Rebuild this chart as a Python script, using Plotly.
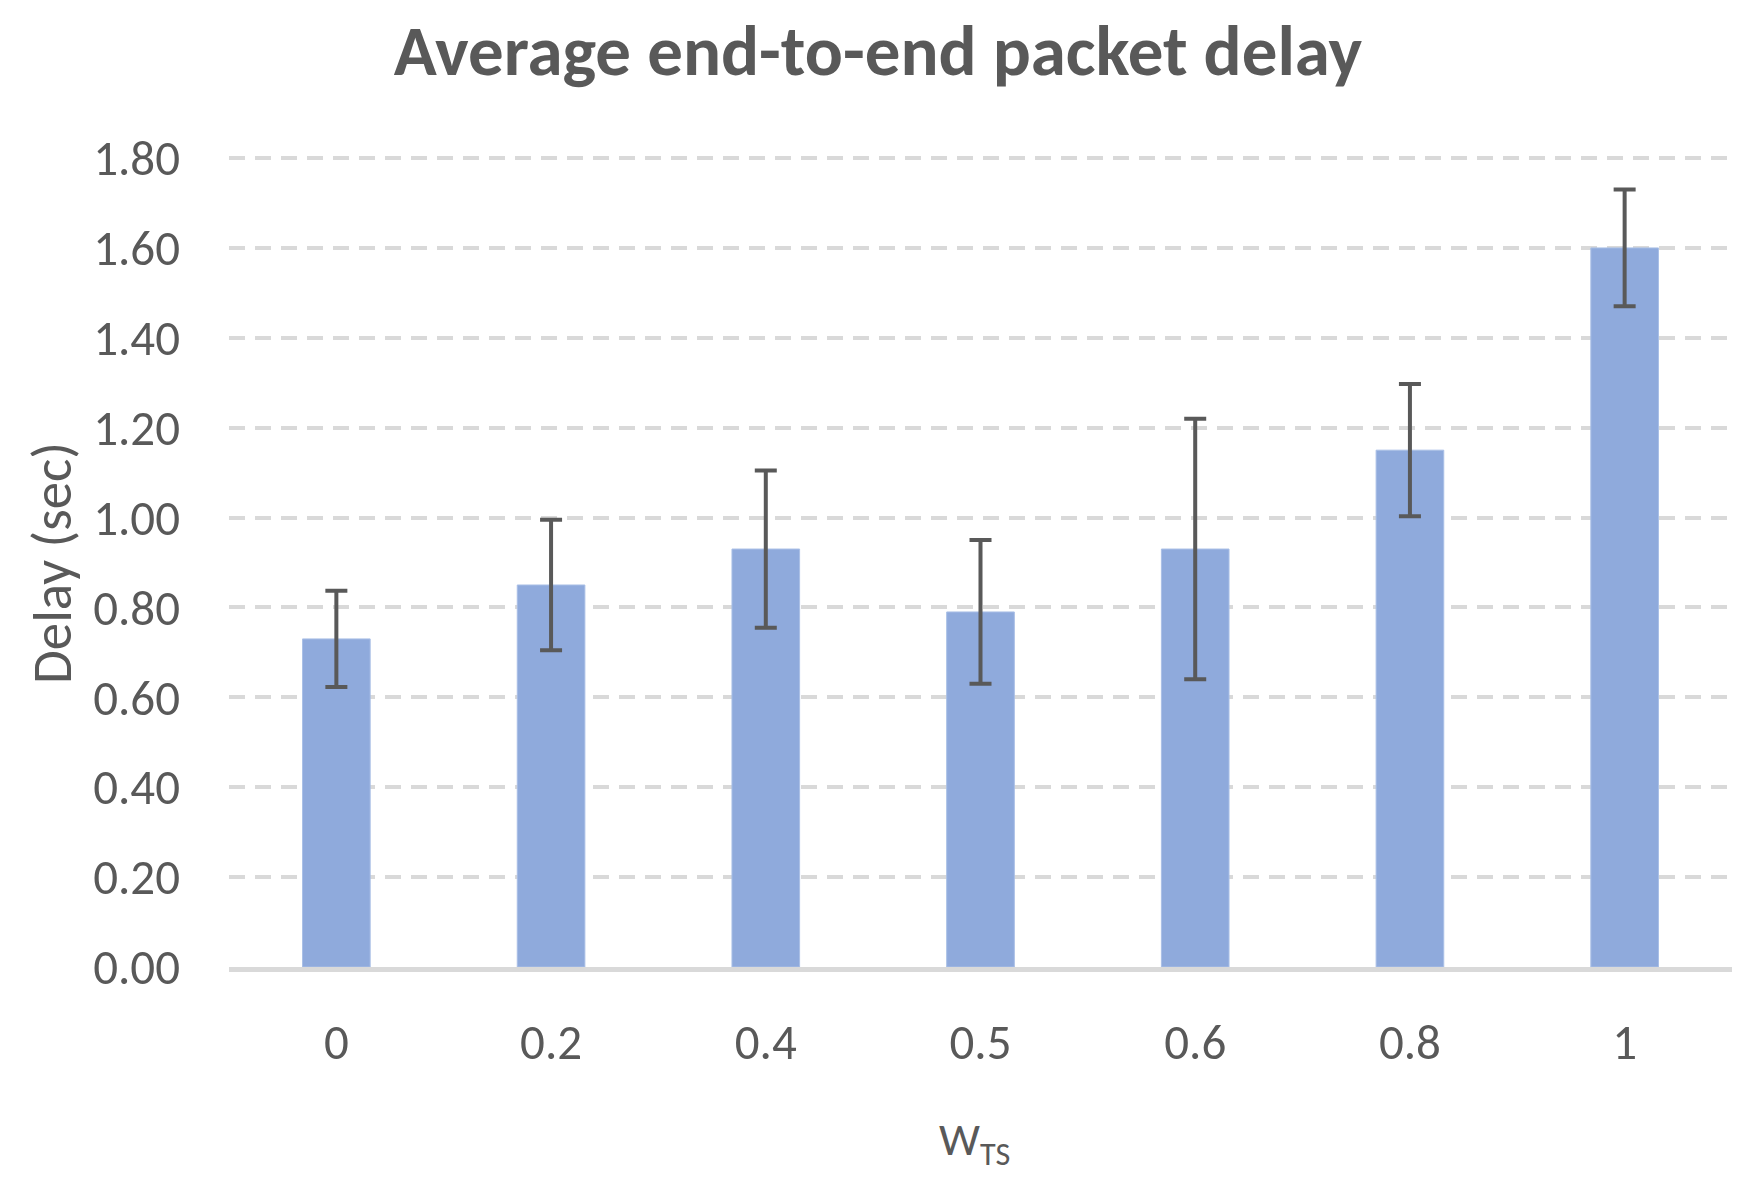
import plotly.graph_objects as go

categories = ["0", "0.2", "0.4", "0.5", "0.6", "0.8", "1"]
delay_mean = [0.73, 0.85, 0.93, 0.79, 0.93, 1.15, 1.60]
delay_err = [0.107, 0.145, 0.175, 0.16, 0.29, 0.147, 0.13]
y_ticks = [0.0, 0.2, 0.4, 0.6, 0.8, 1.0, 1.2, 1.4, 1.6, 1.8]
y_ticktext = [f"{v:.2f}" for v in y_ticks]

FONT = "Calibri, Carlito, Lato, sans-serif"
TXT = "#595959"

W, H = 1740, 1179
L, R, T, B = 221, 16, 146, 220
PW, PH = W - L - R, H - T - B

fig = go.Figure()
fig.add_trace(go.Bar(
    x=categories, y=delay_mean,
    width=0.315,
    marker=dict(color="#8FAADC", line=dict(color="#A9BFE6", width=1)),
    error_y=dict(type="data", array=delay_err, visible=True,
                 color="#595959", thickness=4, width=11),
))

fig.update_layout(
    width=W, height=H,
    margin=dict(l=L, r=R, t=T, b=B),
    paper_bgcolor="white", plot_bgcolor="white",
    showlegend=False,
    font=dict(family=FONT, color=TXT),
    title=dict(text="<b>Average end-to-end packet delay</b>",
               x=0.5, xanchor="center", xref="container",
               y=1 - 42 / H, yanchor="middle", yref="container",
               font=dict(family=FONT, size=71, color=TXT)),
)
fig.update_xaxes(
    type="category", showgrid=False, zeroline=False,
    showline=True, linecolor="#D9D9D9", linewidth=5,
    ticks="", tickfont=dict(size=49, color=TXT, family=FONT),
    ticklabelstandoff=28,
)
fig.update_yaxes(
    range=[0, 1.809], tickvals=y_ticks, ticktext=y_ticktext,
    showgrid=True, gridcolor="#D9D9D9", gridwidth=4, griddash="16px,10px",
    zeroline=False, showline=False, ticks="",
    tickfont=dict(size=49, color=TXT, family=FONT),
    ticklabelstandoff=48,
)
fig.add_annotation(text="Delay (sec)", xref="paper", yref="paper",
                   x=-(L - 44) / PW, y=(959 - 555) / PH,
                   xanchor="center", yanchor="middle", textangle=-90,
                   showarrow=False, font=dict(size=55, color=TXT, family=FONT))
fig.add_annotation(text="W<sub>TS</sub>", xref="paper", yref="paper",
                   x=(966 - L) / PW, y=-(1134 - 959) / PH,
                   xanchor="center", yanchor="middle",
                   showarrow=False, font=dict(size=46, color=TXT, family=FONT))

fig.write_html("out.html")
